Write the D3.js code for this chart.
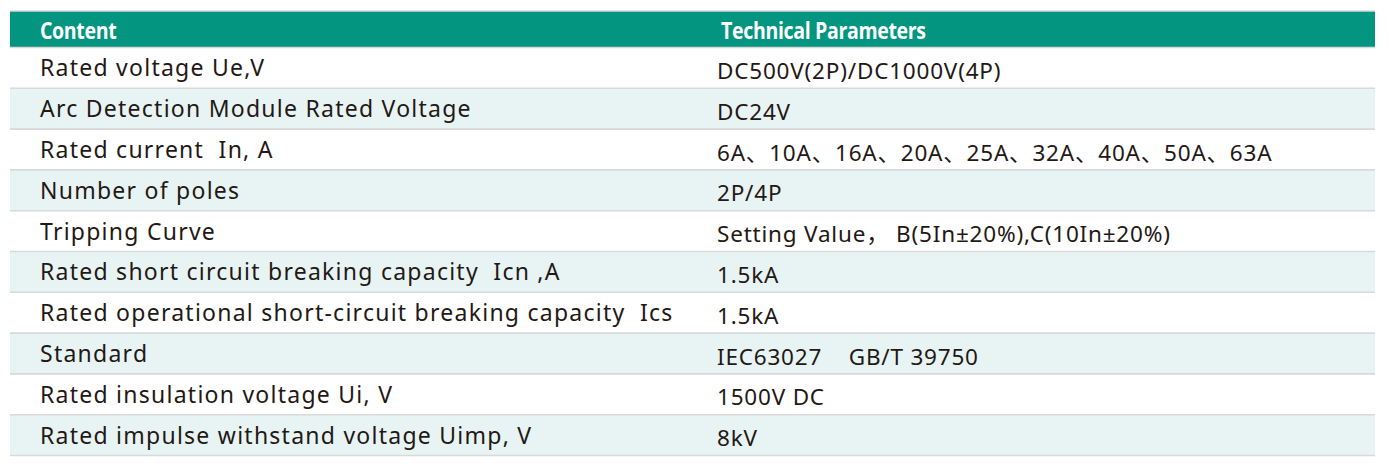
<!DOCTYPE html>
<html>
<head>
<meta charset="utf-8">
<script src="https://cdn.jsdelivr.net/npm/d3@7"></script>
<style>
  html, body { margin: 0; padding: 0; background: #ffffff; }
  svg { display: block; }
</style>
</head>
<body>
<svg id="chart" width="1389" height="467"></svg>
<script>
// ---- data ----
const columns = ["Content", "Technical Parameters"];
const contents = [
  "Rated voltage Ue,V",
  "Arc Detection Module Rated Voltage",
  "Rated current  In, A",
  "Number of poles",
  "Tripping Curve",
  "Rated short circuit breaking capacity  Icn ,A",
  "Rated operational short-circuit breaking capacity  Ics",
  "Standard",
  "Rated insulation voltage Ui, V",
  "Rated impulse withstand voltage Uimp, V"
];
const parameters = [
  "DC500V(2P)/DC1000V(4P)",
  "DC24V",
  "6A、10A、16A、20A、25A、32A、40A、50A、63A",
  "2P/4P",
  "Setting Value， B(5In±20%),C(10In±20%)",
  "1.5kA",
  "1.5kA",
  "IEC63027    GB/T 39750",
  "1500V DC",
  "8kV"
];

// ---- layout ----
const tableLeft = 10, tableRight = 1375;
const headerTop = 11, bodyTop = 47.5, bodyBottom = 455.5;
const teal = "#03957f", stripe = "#e8f4f4", rule = "#d9d9d9", ink = "#231815";

const svg = d3.select("#chart");
const rows = contents.map((c, i) => ({ i, content: c, param: parameters[i] }));

const y = d3.scaleBand().domain(d3.range(rows.length)).range([bodyTop, bodyBottom]);
const x = d3.scaleOrdinal().domain(columns).range([40, 717]);

// header background
svg.append("rect")
  .attr("x", tableLeft).attr("y", headerTop)
  .attr("width", tableRight - tableLeft).attr("height", bodyTop - headerTop)
  .attr("fill", teal);

// row backgrounds
svg.selectAll("rect.row").data(rows).join("rect")
  .attr("class", "row")
  .attr("x", tableLeft).attr("y", d => y(d.i))
  .attr("width", tableRight - tableLeft).attr("height", y.bandwidth())
  .attr("fill", d => d.i % 2 === 1 ? stripe : "#ffffff");

// rules
const ruleYs = [headerTop, bodyTop].concat(rows.map(d => y(d.i) + y.bandwidth()));
svg.selectAll("line.rule").data(ruleYs).join("line")
  .attr("class", "rule")
  .attr("x1", tableLeft).attr("x2", tableRight)
  .attr("y1", d => d).attr("y2", d => d)
  .attr("stroke", rule).attr("stroke-width", 1.6);

// header text (condensed bold)
const headY = (headerTop + bodyTop) / 2 + 10;
svg.selectAll("text.head").data(columns).join("text")
  .attr("class", "head")
  .attr("transform", (d, i) => `translate(${x(d) + (i === 1 ? 4 : 0)},${headY}) scale(0.85,1)`)
  .attr("fill", "#ffffff")
  .attr("font-family", "'Open Sans', 'Noto Sans', sans-serif")
  .attr("font-weight", "bold")
  .attr("font-size", 23)
  .attr("letter-spacing", -0.4)
  .text(d => d);

const bodyFont = "'Noto Sans', 'Noto Sans CJK SC', sans-serif";

// content column
svg.selectAll("text.content").data(rows).join("text")
  .attr("class", "content")
  .attr("x", x(columns[0]))
  .attr("y", d => y(d.i) + y.bandwidth() / 2 + 8.5)
  .attr("fill", ink)
  .attr("font-family", bodyFont)
  .attr("font-size", 23)
  .attr("letter-spacing", 1.25)
  .style("white-space", "pre")
  .text(d => d.content);

// parameter column
svg.selectAll("text.param").data(rows).join("text")
  .attr("class", "param")
  .attr("x", x(columns[1]))
  .attr("y", d => y(d.i) + y.bandwidth() / 2 + 11)
  .attr("fill", ink)
  .attr("font-family", bodyFont)
  .attr("font-size", 22.5)
  .attr("letter-spacing", 0.8)
  .style("white-space", "pre")
  .text(d => d.param);
</script>
</body>
</html>
